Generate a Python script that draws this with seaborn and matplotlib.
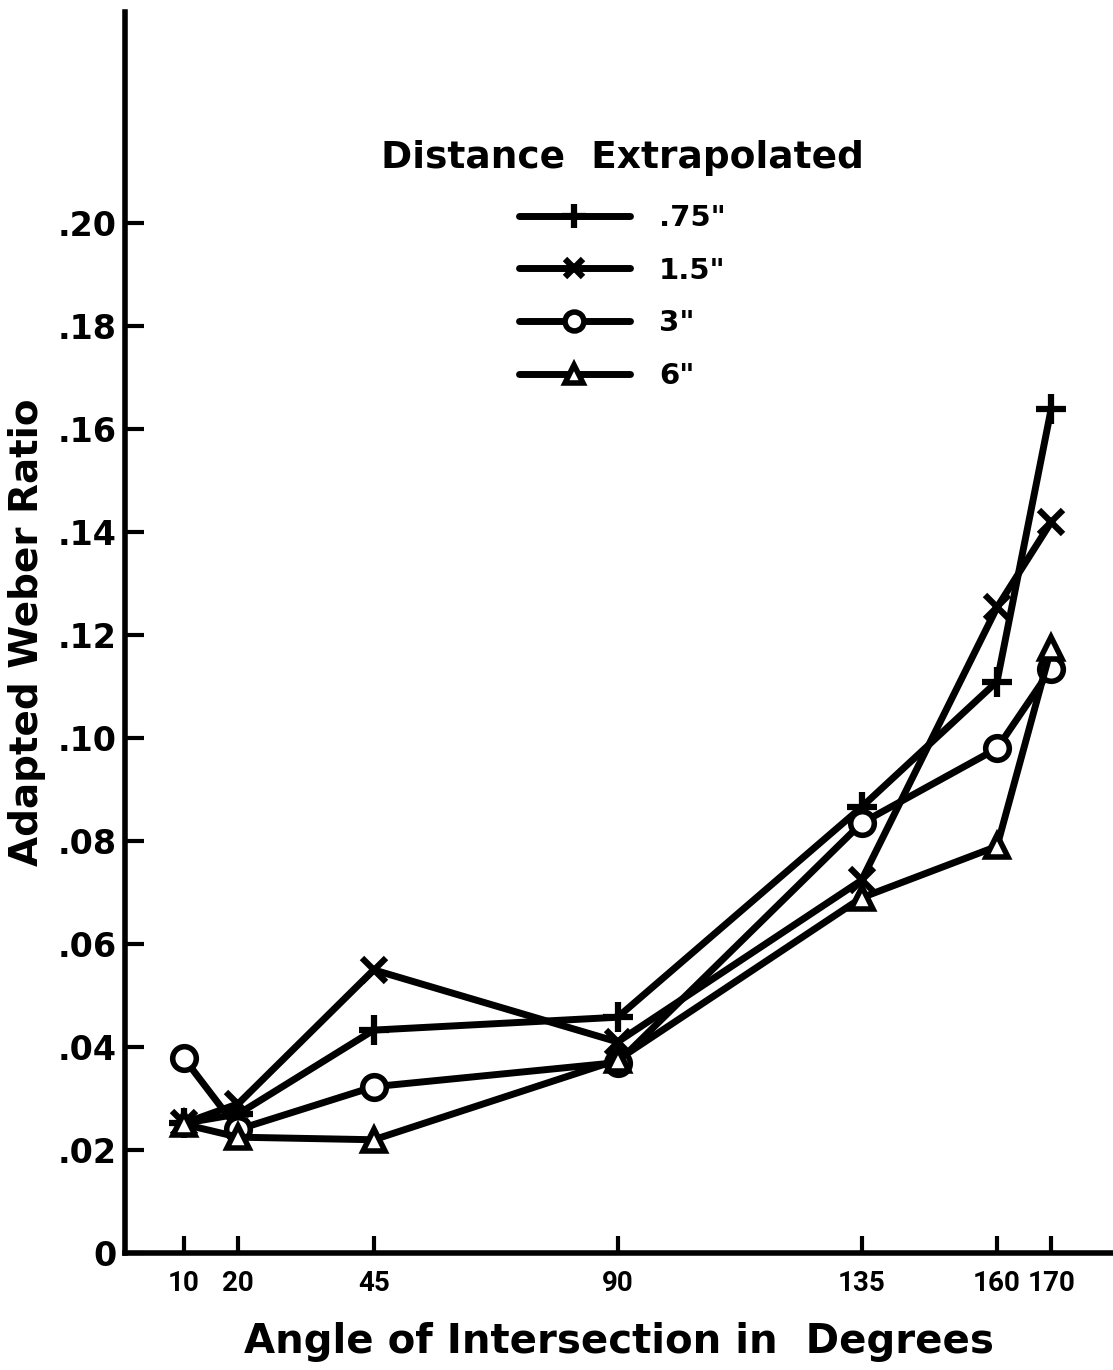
import matplotlib
matplotlib.use("Agg")
import matplotlib.pyplot as plt
import seaborn as sns
import pandas as pd
from matplotlib.lines import Line2D

# Data
angles = [10, 20, 45, 90, 135, 160, 170]
series_labels = ['.75"', '1.5"', '3"', '6"']
w_075 = [0.0252, 0.0270, 0.0433, 0.0458, 0.0866, 0.1110, 0.1640]
w_15 = [0.0252, 0.0290, 0.0550, 0.0410, 0.0724, 0.1254, 0.1420]
w_3 = [0.0378, 0.0240, 0.0323, 0.0370, 0.0835, 0.0980, 0.1135]
w_6 = [0.0250, 0.0225, 0.0220, 0.0375, 0.0690, 0.0790, 0.1175]
x_ticks = [10, 20, 45, 90, 135, 160, 170]
y_ticks = [0, 0.02, 0.04, 0.06, 0.08, 0.10, 0.12, 0.14, 0.16, 0.18, 0.20]
y_tick_labels = ["0", ".02", ".04", ".06", ".08", ".10", ".12", ".14", ".16", ".18", ".20"]

sns.set_theme(style="white")
plt.rcParams['font.family'] = ['DejaVu Sans']
plt.rcParams['font.weight'] = 'bold'
plt.rcParams['text.color'] = 'black'
plt.rcParams['axes.labelcolor'] = 'black'

fig = plt.figure(figsize=(11.13, 13.70), dpi=100)
ax = fig.add_axes([0.1123, 0.0854, 0.8877, 0.9056])

styles = [
    dict(marker='+', markersize=22, markeredgewidth=4.5, markerfacecolor='black'),
    dict(marker='x', markersize=17, markeredgewidth=4.5, markerfacecolor='black'),
    dict(marker='o', markersize=17, markeredgewidth=4, markerfacecolor='white'),
    dict(marker='^', markersize=16, markeredgewidth=4, markerfacecolor='white'),
]

all_series = [w_075, w_15, w_3, w_6]
handles = []
for vals, lab, st in zip(all_series, series_labels, styles):
    df = pd.DataFrame({"angle": angles, "ratio": vals})
    sns.lineplot(data=df, x="angle", y="ratio", ax=ax, color='black',
                 linewidth=5, sort=False, markeredgecolor='black', **st)
    hst = dict(st)
    hst['markersize'] = st['markersize'] * 0.8
    handles.append(Line2D([], [], color='black', linewidth=5,
                          markeredgecolor='black', label=lab, **hst))

ax.set_xlim(-0.9, 181.4)
ax.set_ylim(0, 0.241)
ax.set_xticks(x_ticks)
ax.set_xticklabels([str(a) for a in x_ticks], fontsize=20, fontweight='bold',
                   family=['Roboto', 'DejaVu Sans'])
ax.set_yticks(y_ticks)
ax.set_yticklabels(y_tick_labels, fontsize=24, fontweight='bold')
ax.tick_params(axis='y', direction='in', length=14, width=3, pad=6, left=True, colors='black')
ax.tick_params(axis='x', direction='in', length=12, width=3, pad=12, bottom=True, colors='black')

for s in ['top', 'right']:
    ax.spines[s].set_visible(False)
for s in ['left', 'bottom']:
    ax.spines[s].set_linewidth(4)
    ax.spines[s].set_color('black')

ax.set_xlabel("Angle of Intersection in  Degrees", fontsize=29, fontweight='bold', labelpad=18)
ax.set_ylabel("Adapted Weber Ratio", fontsize=28, fontweight='bold', labelpad=8)

leg = ax.legend(handles=handles, title="Distance  Extrapolated", loc='upper center',
                bbox_to_anchor=(0.559, 0.917), bbox_transform=fig.transFigure,
                frameon=False, fontsize=21, title_fontsize=27, handlelength=3.8,
                labelspacing=0.85, handletextpad=1.0)
leg.get_title().set_fontweight('bold')
leg.get_title().set_color('black')
leg._legend_box.sep = 20
for t in leg.get_texts():
    t.set_fontweight('bold')
    t.set_color('black')

fig.savefig("out.png", dpi=100)
